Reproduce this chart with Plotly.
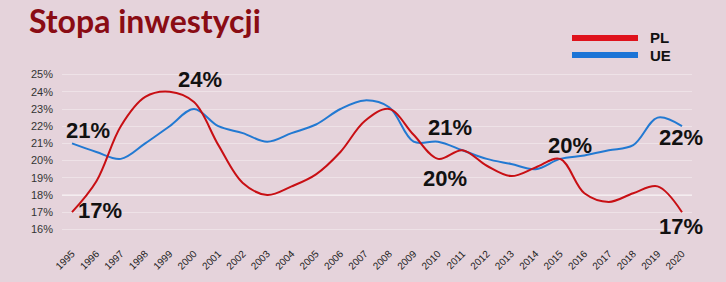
import plotly.graph_objects as go

years = list(range(1995, 2021))
pl = [17.0, 18.8, 22.0, 23.7, 24.0, 23.4, 20.9, 18.7, 18.0, 18.5, 19.2, 20.5, 22.3, 23.0,
      21.5, 20.1, 20.6, 19.7, 19.1, 19.6, 20.1, 18.1, 17.6, 18.1, 18.5, 17.0]
ue = [21.0, 20.5, 20.1, 21.0, 22.0, 23.0, 22.0, 21.6, 21.1, 21.6, 22.1, 23.0, 23.5, 23.1,
      21.1, 21.1, 20.6, 20.1, 19.8, 19.5, 20.1, 20.3, 20.6, 20.9, 22.5, 22.0]
y_ticks = [16, 17, 18, 19, 20, 21, 22, 23, 24, 25]
y_tick_labels = [f"{v}%" for v in y_ticks]
series_names = ["PL", "UE"]
point_labels = ["21%", "17%", "24%", "21%", "20%", "20%", "22%", "17%"]
title_text = "Stopa inwestycji"

BG = "#e5d3db"
RED = "#c80f14"
BLUE = "#2279d2"
LEG_RED = "#df121c"
LEG_BLUE = "#1c74d6"

W, H = 726, 282
ML, MR, MT, MB = 62, 34, 66, 44
PW, PH = W - ML - MR, H - MT - MB


def px_x(p):
    return (p - ML) / PW


def px_y(p):
    return (H - MB - p) / PH


fig = go.Figure()
fig.add_trace(go.Scatter(x=years, y=ue, mode="lines", name=series_names[1],
                         line=dict(color=BLUE, width=2, shape="spline", smoothing=1)))
fig.add_trace(go.Scatter(x=years, y=pl, mode="lines", name=series_names[0],
                         line=dict(color=RED, width=2, shape="spline", smoothing=1)))

# value labels (positions in data coordinates)
label_pos = [(1995.66, 21.73), (1996.15, 17.11), (2000.25, 24.71), (2010.49, 21.9),
             (2010.29, 18.98), (2015.41, 20.85), (2019.96, 21.32), (2019.96, 16.18)]
for txt, (lx, ly) in zip(point_labels, label_pos):
    fig.add_annotation(x=lx, y=ly, text=f"<b>{txt}</b>", showarrow=False, xref="x", yref="y",
                       font=dict(family="Liberation Sans", size=22, color="#111111"),
                       xanchor="center", yanchor="middle")

# legend drawn manually
leg = [(38, LEG_RED, series_names[0]), (55, LEG_BLUE, series_names[1])]
for yy, col, name in leg:
    fig.add_shape(type="line", xref="paper", yref="paper",
                  x0=px_x(572), x1=px_x(638), y0=px_y(yy), y1=px_y(yy),
                  line=dict(color=col, width=6))
    fig.add_annotation(xref="paper", yref="paper", x=px_x(648), y=px_y(yy),
                       text=f"<b>{name}</b>", showarrow=False, xanchor="left", yanchor="middle",
                       font=dict(family="Liberation Sans", size=15, color="#111111"))

# title as annotation
fig.add_annotation(xref="paper", yref="paper", x=px_x(28), y=px_y(20.5),
                   text=f"<b>{title_text}</b>", showarrow=False, xanchor="left", yanchor="middle",
                   borderpad=0,
                   font=dict(family="Lato", size=32, color="#8a0c14"))

# brighter 18% line
fig.add_shape(type="line", xref="paper", yref="y", x0=0, x1=1, y0=18, y1=18,
              line=dict(color="rgba(255,255,255,0.75)", width=1), layer="below")

fig.update_layout(
    width=W, height=H,
    margin=dict(l=ML, r=MR, t=MT, b=MB),
    paper_bgcolor=BG, plot_bgcolor=BG,
    showlegend=False,
    xaxis=dict(range=[1994.59, 2020.41], tickmode="array", tickvals=years,
               ticktext=[str(y) for y in years], tickangle=-45, showgrid=False,
               zeroline=False, showline=False, ticks="", automargin=False,
               ticklabelstandoff=7,
               tickfont=dict(family="Liberation Sans", size=10, color="#222222")),
    yaxis=dict(range=[15.5, 25.5], tickmode="array", tickvals=y_ticks, ticktext=y_tick_labels,
               showgrid=True, gridcolor="rgba(255,255,255,0.35)", gridwidth=1,
               zeroline=False, showline=False, ticks="", automargin=False,
               ticklabelstandoff=8,
               tickfont=dict(family="Liberation Sans", size=11, color="#333333")),
)

fig.write_html("out.html")
